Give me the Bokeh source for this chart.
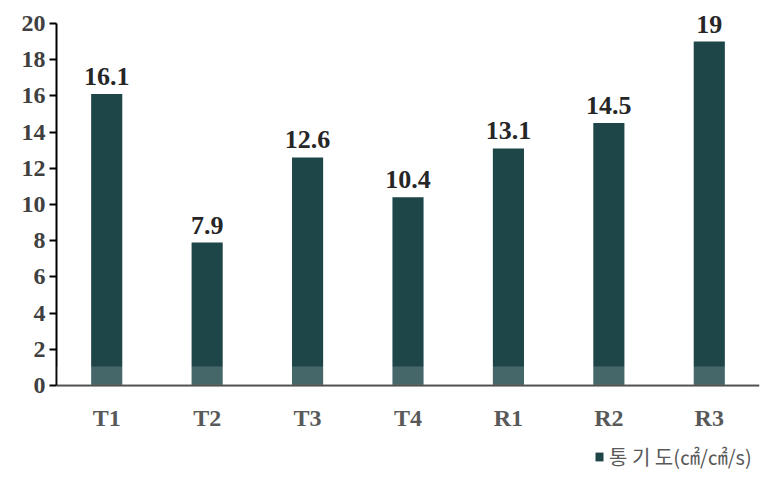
from bokeh.plotting import figure
from bokeh.models import (ColumnDataSource, FactorRange, Range1d, LabelSet, Legend, LegendItem,
                          BoxAnnotation, FixedTicker)
from bokeh.embed import file_html
from bokeh.resources import INLINE

categories = ["T1", "T2", "T3", "T4", "R1", "R2", "R3"]
values = [16.1, 7.9, 12.6, 10.4, 13.1, 14.5, 19]
value_labels = ["16.1", "7.9", "12.6", "10.4", "13.1", "14.5", "19"]
y_ticks = [0, 2, 4, 6, 8, 10, 12, 14, 16, 18, 20]
series_name = "통 기 도(㎠/㎠/s)"

SERIF = "'Liberation Serif', 'Times New Roman', serif"

src = ColumnDataSource(dict(cat=categories, val=values, lab=value_labels))

p = figure(width=766, height=477, x_range=FactorRange(*categories, range_padding=0),
           y_range=Range1d(-5.08, 21.27), output_backend="svg", toolbar_location=None,
           min_border_left=56, min_border_right=7, min_border_top=0, min_border_bottom=0)
p.outline_line_color = None
p.xgrid.grid_line_color = None
p.ygrid.grid_line_color = None
p.background_fill_color = "white"

r = p.vbar(x="cat", top="val", width=0.31, source=src, fill_color="#1e4649", line_color=None)

band = BoxAnnotation(bottom=0, top=1.05, fill_color="white", fill_alpha=0.18, line_color=None)
p.add_layout(band)

labels = LabelSet(x="cat", y="val", text="lab", source=src, text_align="center",
                  text_baseline="bottom", y_offset=9, text_font=SERIF,
                  text_font_style="bold", text_font_size="26px", text_color="#262626")
p.add_layout(labels)

p.yaxis.ticker = FixedTicker(ticks=y_ticks)
p.yaxis.bounds = (0, 20)
p.yaxis.minor_tick_line_color = None
p.yaxis.major_tick_in = 0
p.yaxis.major_tick_out = 7
p.yaxis.major_tick_line_width = 2
p.yaxis.major_tick_line_color = "black"
p.yaxis.axis_line_width = 2
p.yaxis.axis_line_color = "black"
p.yaxis.major_label_text_font = SERIF
p.yaxis.major_label_text_font_style = "bold"
p.yaxis.major_label_text_font_size = "24px"
p.yaxis.major_label_text_color = "#404040"
p.yaxis.major_label_standoff = 4

p.xaxis.fixed_location = 0
p.xaxis.major_tick_line_color = None
p.xaxis.minor_tick_line_color = None
p.xaxis.axis_line_width = 2
p.xaxis.axis_line_color = "#404040"
p.xaxis.major_label_text_font = SERIF
p.xaxis.major_label_text_font_style = "bold"
p.xaxis.major_label_text_font_size = "24px"
p.xaxis.major_label_text_color = "#595959"
p.xaxis.major_label_standoff = 13

legend = Legend(items=[LegendItem(label=series_name, renderers=[r])], location=(538, 6),
                label_text_font="Noto Sans CJK KR", label_text_font_size="20px",
                label_text_color="#595959", glyph_width=10, glyph_height=11,
                border_line_color=None, background_fill_alpha=0, label_standoff=5,
                margin=0, padding=2)
p.add_layout(legend)

open("out.html", "w").write(file_html(p, INLINE))
